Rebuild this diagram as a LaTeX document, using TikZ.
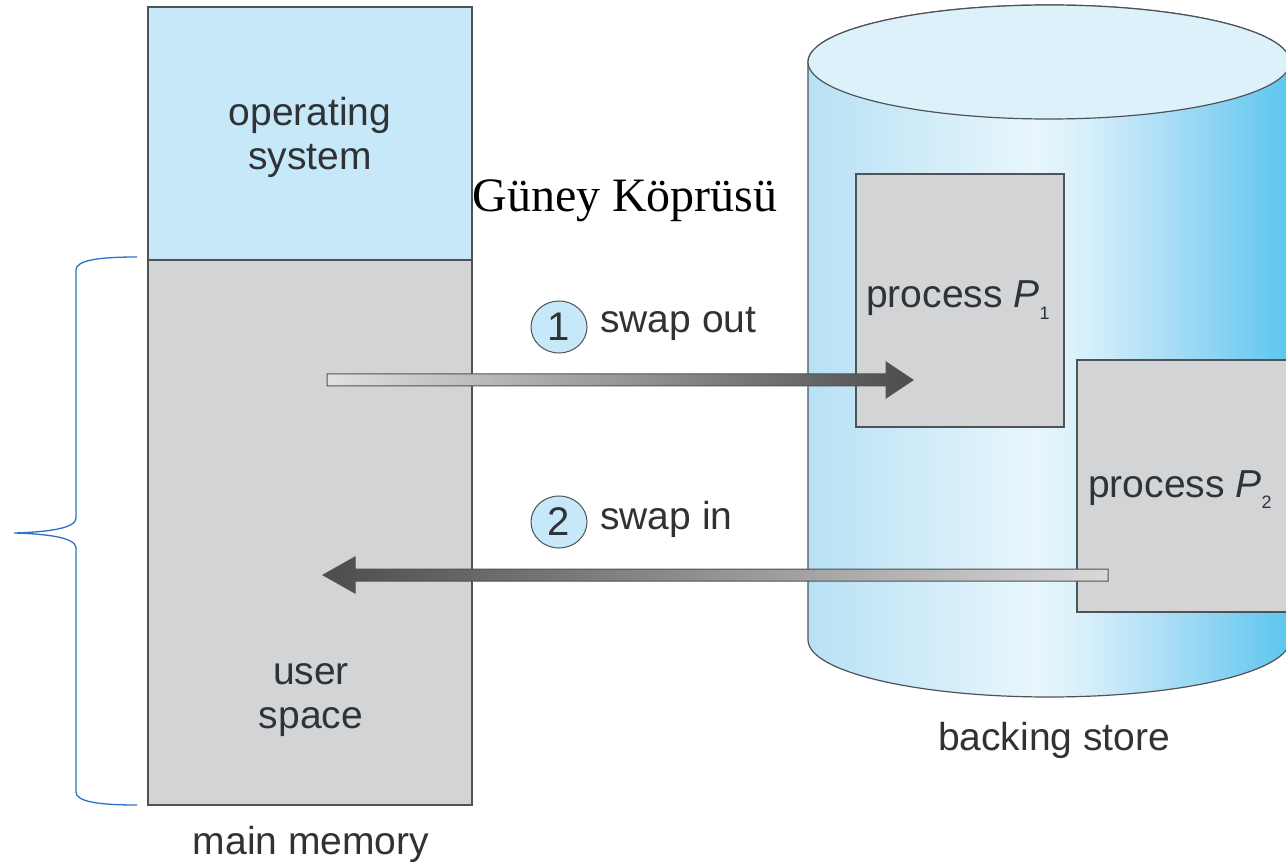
\documentclass[tikz,border=0pt]{standalone}
\usepackage{fontspec}
\setmainfont{Liberation Serif}
\setsansfont{Liberation Sans}
\usetikzlibrary{calc,shapes.geometric}
\definecolor{osblue}{HTML}{C6E8F8}
\definecolor{procgray}{HTML}{D3D4D6}
\definecolor{edge}{HTML}{4F5357}
\definecolor{txt}{HTML}{2F3336}
\definecolor{bracecol}{HTML}{2A72C6}
\definecolor{cylA}{HTML}{B8E1F5}
\definecolor{cylB}{HTML}{E8F6FC}
\definecolor{cylC}{HTML}{D6EFFA}
\definecolor{cylD}{HTML}{A6DCF5}
\definecolor{cylE}{HTML}{5CC5EE}
\definecolor{cyltop}{HTML}{DDF1FA}
\pgfdeclarehorizontalshading{cylshade}{100bp}{color(0bp)=(cylA); color(25bp)=(cylA); color(48.5bp)=(cylB); color(54bp)=(cylC); color(63bp)=(cylD); color(75bp)=(cylE); color(100bp)=(cylE)}
\tikzset{
  box/.style={draw=edge, line width=1.2pt, inner sep=0pt, outer sep=0pt, anchor=north west},
  lbl/.style={font=\fontsize{39}{44}\selectfont\sffamily, text=txt, align=center, inner sep=0pt},
  numcirc/.style={draw=edge, line width=1pt, fill=osblue, ellipse, minimum width=56pt, minimum height=52pt, inner sep=0pt, font=\fontsize{40}{42}\selectfont\sffamily, text=txt},
  arrowbody/.style={draw=edge, line width=1pt},
}
\newcommand{\procsub}[1]{\raisebox{-12pt}{\fontsize{18}{20}\selectfont #1}}
\begin{document}
\begin{tikzpicture}[x=1pt,y=-1pt]
\clip (0,0) rectangle (1286,866);
\fill[white] (0,0) rectangle (1286,866);

% cylinder (backing store)
\path[shading=cylshade, draw=edge, line width=1.2pt]
  (808,62) -- (808,640) arc[start angle=180, end angle=360, x radius=241pt, y radius=57pt]
  -- (1290,62) arc[start angle=0, end angle=180, x radius=241pt, y radius=57pt] -- cycle;
\draw[edge, line width=1.2pt, fill=cyltop] (1049,62) ellipse[x radius=241pt, y radius=57pt];

% process boxes
\node[box, fill=procgray, minimum width=208pt, minimum height=253pt] (p1) at (856,174) {};
\node[box, fill=procgray, minimum width=220pt, minimum height=252pt] (p2) at (1077,360) {};
\node[lbl, anchor=base west] (p1t) at (866,308) {process {\itshape P}\procsub{1}};
\node[lbl, anchor=base west] (p2t) at (1088,497) {process {\itshape P}\procsub{2}};

% main memory
\node[box, fill=osblue, minimum width=324pt, minimum height=253pt] (os) at (148,7) {};
\node[box, fill=procgray, minimum width=324pt, minimum height=545pt] (us) at (148,260) {};
\node[lbl] (ost) at (310,137) {operating\\system};
\node[lbl] (ust) at (311,700) {user\\space};
\node[lbl] (mm) at (311,844) {main memory};
\node[lbl] (bs) at (1054,740) {backing store};

% brace
\draw[bracecol, line width=1.3pt]
  (137,257) .. controls (100,257) and (76,260) .. (76,270) -- (76,518)
  .. controls (76,528) and (50,532) .. (14,533)
  .. controls (50,534) and (76,538) .. (76,548) -- (76,792)
  .. controls (76,802) and (100,805) .. (137,805);

% title
\node[font=\fontsize{48}{52}\selectfont\rmfamily, inner sep=0pt] (title) at (625,201) {Güney Köprüsü};

% arrows
\coordinate (a1s) at (327,380);
\coordinate (a1e) at (913,380);
\coordinate (a2s) at (1108,575);
\coordinate (a2e) at (323,575);
\path[arrowbody, left color=white!88!black, right color=black!70]
  ($(a1s)+(0,-6)$) -- ($(a1e)+(-27,-6)$) -- ($(a1e)+(-27,-18)$) -- (a1e)
  -- ($(a1e)+(-27,18)$) -- ($(a1e)+(-27,6)$) -- ($(a1s)+(0,6)$) -- cycle;
\path[arrowbody, left color=black!70, right color=white!85!black]
  ($(a2s)+(0,-6)$) -- ($(a2e)+(32,-6)$) -- ($(a2e)+(32,-18)$) -- (a2e)
  -- ($(a2e)+(32,18)$) -- ($(a2e)+(32,6)$) -- ($(a2s)+(0,6)$) -- cycle;

% step labels
\node[numcirc] (c1) at (559,327) {1};
\node[lbl, anchor=west] (so) at (600,324) {swap out};
\node[numcirc] (c2) at (559,522) {2};
\node[lbl, anchor=west] (si) at (600,519) {swap in};
\end{tikzpicture}
\end{document}
